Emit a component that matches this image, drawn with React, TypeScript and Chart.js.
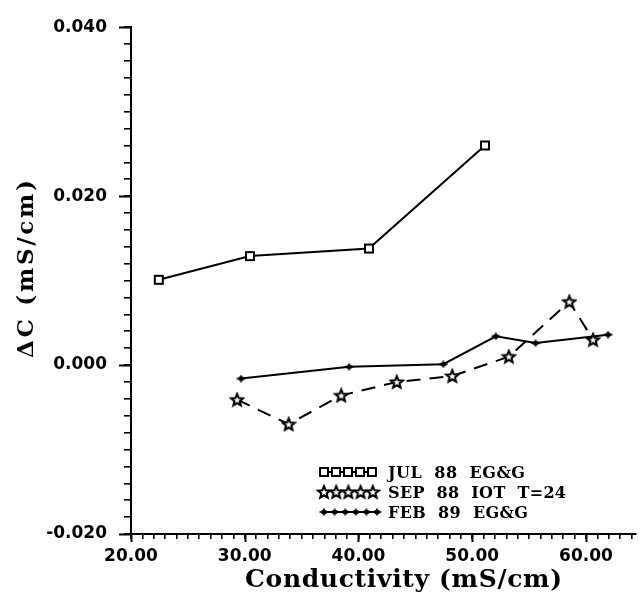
import React, { useEffect, useRef } from 'react';
import { Chart, registerables } from 'chart.js';

Chart.register(...registerables);

// ---- data ----
const julX = [22.44, 30.46, 40.92, 51.12];
const julY = [0.0101, 0.0129, 0.0138, 0.026];
const sepX = [29.33, 33.86, 38.48, 43.37, 48.25, 53.22, 58.54, 60.63];
const sepY = [-0.0041, -0.007, -0.0036, -0.002, -0.0013, 0.001, 0.0075, 0.003];
const febX = [29.68, 39.18, 47.46, 52.08, 55.57, 61.94];
const febY = [-0.0016, -0.0002, 0.0001, 0.0034, 0.0026, 0.0036];

const seriesLabels = ['JUL  88  EG&G', 'SEP  88  IOT  T=24', 'FEB  89  EG&G'];
const xTitle = 'Conductivity (mS/cm)';
const yTitle = 'ΔC (mS/cm)';
const xMin = 20;
const xMax = 64.4;
const xMajorTicks = [20, 30, 40, 50, 60];
const yMin = -0.02;
const yMax = 0.04;
const yMajorTicks = [-0.02, 0, 0.02, 0.04];

// ---- marker images ----
function makeSquare(): HTMLCanvasElement {
  const c = document.createElement('canvas');
  c.width = 12; c.height = 12;
  const g = c.getContext('2d')!;
  g.fillStyle = '#fff';
  g.fillRect(2, 2, 8, 8);
  g.strokeStyle = '#000';
  g.lineWidth = 2;
  g.strokeRect(2, 2, 8, 8);
  return c;
}
function makeStar(): HTMLCanvasElement {
  const c = document.createElement('canvas');
  c.width = 16; c.height = 16;
  const g = c.getContext('2d')!;
  const cx = 8, cy = 8.5, ro = 6.4, ri = 2.8;
  g.beginPath();
  for (let i = 0; i < 10; i++) {
    const r = i % 2 === 0 ? ro : ri;
    const a = -Math.PI / 2 + (i * Math.PI) / 5;
    const px = cx + r * Math.cos(a), py = cy + r * Math.sin(a);
    if (i === 0) g.moveTo(px, py); else g.lineTo(px, py);
  }
  g.closePath();
  g.fillStyle = '#fff';
  g.fill();
  g.strokeStyle = '#000';
  g.lineWidth = 2;
  g.lineJoin = 'miter';
  g.stroke();
  return c;
}
function makePlus(): HTMLCanvasElement {
  const c = document.createElement('canvas');
  c.width = 10; c.height = 8;
  const g = c.getContext('2d')!;
  g.fillStyle = '#000';
  g.beginPath();
  g.ellipse(5, 4, 3, 2.3, 0, 0, Math.PI * 2);
  g.fill();
  g.strokeStyle = '#000';
  g.lineWidth = 1.6;
  g.beginPath();
  g.moveTo(5, 0.5); g.lineTo(5, 7.5);
  g.moveTo(0.5, 4); g.lineTo(9.5, 4);
  g.stroke();
  return c;
}

function fitText(ctx: CanvasRenderingContext2D, text: string, x: number, y: number, width: number) {
  (ctx as any).letterSpacing = '0px';
  const w = ctx.measureText(text).width;
  const n = Array.from(text).length;
  const ls = n > 1 ? (width - w) / (n - 1) : 0;
  (ctx as any).letterSpacing = ls + 'px';
  ctx.textAlign = 'left';
  ctx.fillText(text, x, y);
  (ctx as any).letterSpacing = '0px';
}

const isMajor = (v: number, step: number) => Math.abs(v / step - Math.round(v / step)) < 1e-6;

export default function App() {
  const ref = useRef<HTMLCanvasElement>(null);

  useEffect(() => {
    const square = makeSquare();
    const star = makeStar();
    const plus = makePlus();

    const legendRows = [
      { marker: square, count: 5, pitch: 12, line: true, y: 472, width: 137 },
      { marker: star, count: 5, pitch: 12.2, line: false, y: 492, width: 178 },
      { marker: plus, count: 6, pitch: 10.6, line: true, y: 512, width: 140 },
    ];

    const decor = {
      id: 'decor',
      afterDraw(chart: any) {
        const { ctx, chartArea: a, scales } = chart;
        const xs = scales.x, ys = scales.y;
        ctx.save();
        ctx.strokeStyle = '#000';
        ctx.lineWidth = 2;
        ctx.beginPath();
        for (const v of xMajorTicks) {
          const px = Math.round(xs.getPixelForValue(v)) + 0.5;
          ctx.moveTo(px, a.bottom);
          ctx.lineTo(px, a.bottom + 8);
        }
        for (const v of yMajorTicks) {
          const py = Math.round(ys.getPixelForValue(v)) + 0.5;
          ctx.moveTo(a.left, py);
          ctx.lineTo(a.left - 12, py);
        }
        ctx.stroke();

        // axis titles
        ctx.fillStyle = '#000';
        ctx.textBaseline = 'alphabetic';
        ctx.font = '600 25px "DejaVu Serif"';
        fitText(ctx, xTitle, 245, 587, 317);
        ctx.save();
        ctx.translate(33, 358);
        ctx.rotate(-Math.PI / 2);
        ctx.font = '600 23px "DejaVu Serif"';
        fitText(ctx, yTitle, 0, 0, 178);
        ctx.restore();

        // legend
        const ds = chart.data.datasets;
        legendRows.forEach((row, i) => {
          const x0 = 324;
          const xs0 = x0, xs1 = x0 + row.pitch * (row.count - 1);
          if (row.line) {
            ctx.beginPath();
            ctx.setLineDash([]);
            ctx.lineWidth = ds[i].borderWidth;
            ctx.moveTo(xs0, row.y);
            ctx.lineTo(xs1, row.y);
            ctx.stroke();
          }
          for (let k = 0; k < row.count; k++) {
            const cx = x0 + row.pitch * k;
            ctx.drawImage(row.marker, cx - row.marker.width / 2, row.y - row.marker.height / 2);
          }
          ctx.font = 'bold 16px "DejaVu Serif"';
          ctx.textBaseline = 'alphabetic';
          fitText(ctx, seriesLabels[i], 388, row.y + 6, row.width);
        });
        ctx.restore();
      },
    };

    const tickFont = { family: '"DejaVu Sans"', size: 17, weight: 'bold' as const };

    const chart = new Chart(ref.current!, {
      type: 'scatter',
      data: {
        datasets: [
          {
            label: seriesLabels[0],
            data: julX.map((x, i) => ({ x, y: julY[i] })),
            showLine: true,
            borderColor: '#000',
            borderWidth: 2,
            pointStyle: square,
            pointRadius: 5,
          },
          {
            label: seriesLabels[1],
            data: sepX.map((x, i) => ({ x, y: sepY[i] })),
            showLine: true,
            borderColor: '#000',
            borderWidth: 2,
            borderDash: [14, 9],
            pointStyle: star,
            pointRadius: 6,
          },
          {
            label: seriesLabels[2],
            data: febX.map((x, i) => ({ x, y: febY[i] })),
            showLine: true,
            borderColor: '#000',
            borderWidth: 2,
            pointStyle: plus,
            pointRadius: 4,
          },
        ] as any,
      },
      options: {
        animation: false,
        responsive: false,
        layout: { padding: { top: 17, right: 3, left: 0, bottom: 0 } },
        plugins: { legend: { display: false }, tooltip: { enabled: false }, title: { display: false } },
        scales: {
          x: {
            type: 'linear',
            position: 'bottom',
            min: xMin,
            max: xMax,
            ticks: {
              stepSize: 1,
              autoSkip: false,
              includeBounds: false,
              maxRotation: 0,
              color: '#000',
              font: tickFont,
              padding: 7,
              callback: (v: any) => (isMajor(Number(v), 10) ? Number(v).toFixed(2) : ''),
            },
            grid: { display: true, drawOnChartArea: false, drawTicks: true, tickLength: 5, color: '#000', lineWidth: 1.6 },
            border: { display: true, color: '#000', width: 2 },
            title: { display: false },
            afterFit: (s: any) => { s.height = 63; },
          },
          y: {
            type: 'linear',
            position: 'left',
            min: yMin,
            max: yMax,
            ticks: {
              stepSize: 0.002,
              autoSkip: false,
              includeBounds: false,
              color: '#000',
              font: tickFont,
              padding: 17,
              callback: (v: any) => (isMajor(Number(v), 0.02) ? Number(v).toFixed(3) : ''),
            },
            grid: { display: true, drawOnChartArea: false, drawTicks: true, tickLength: 7, color: '#000', lineWidth: 1.6 },
            border: { display: true, color: '#000', width: 2 },
            title: { display: false },
            afterFit: (s: any) => { s.width = 131; },
          },
        },
      } as any,
      plugins: [decor],
    });
    return () => chart.destroy();
  }, []);

  return (
    <div style={{ position: 'absolute', left: 0, top: 0, width: 644, height: 597, background: '#fff' }}>
      <canvas ref={ref} width={644} height={597} style={{ display: 'block' }} />
    </div>
  );
}
